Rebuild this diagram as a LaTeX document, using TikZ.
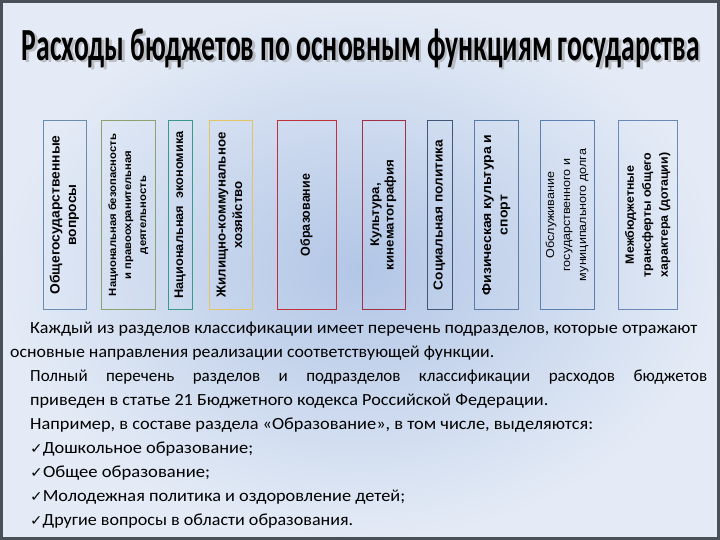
\documentclass[tikz,border=0pt]{standalone}
\usepackage{fontspec}
\setmainfont{Carlito}
\newfontfamily\boxfont{Liberation Sans}
\newfontfamily\symfont{DejaVu Sans}
\usepackage{graphicx}
\newcommand\fitw[2]{\resizebox{#1}{\height}{#2}}
\definecolor{framecol}{HTML}{4A5058}
\definecolor{bgin}{HTML}{B2C6E6}
\definecolor{bgout}{HTML}{E4EBF6}
\definecolor{c1}{HTML}{6A8CB0}
\definecolor{c2}{HTML}{8FA070}
\definecolor{c3}{HTML}{3A9A8A}
\definecolor{c4}{HTML}{E2C466}
\definecolor{c5}{HTML}{C0303A}
\definecolor{c6}{HTML}{A03045}
\definecolor{c7}{HTML}{405878}
\definecolor{c8}{HTML}{5A7CA8}
\definecolor{c9}{HTML}{5A80B0}
\definecolor{c10}{HTML}{6A88B8}
\tikzset{
  fbox/.style={draw, line width=1pt, rotate=90, minimum width=188pt, inner sep=0pt, align=center, text=black},
  para/.style={anchor=base west, inner sep=0pt, font=\fontsize{17}{20}\selectfont},
  chk/.style={},
}
\newcommand\chkmark{{\symfont\fontsize{14}{14}\selectfont ✓}}
\begin{document}
\begin{tikzpicture}[x=1pt,y=-1pt]
\useasboundingbox (0,0) rectangle (720,540);
\shade[inner color=bgin, outer color=bgout] (0,0) rectangle (720,540);
\draw[line width=3pt, framecol] (1.5,1.5) rectangle (718.5,538.5);
% title with soft shadow
\node[anchor=base, inner sep=0pt, text=black!40, opacity=0.55] (tshadow) at (363.5,63) {\fitw{678pt}{\fontsize{46}{46}\selectfont\bfseries Расходы бюджетов по основным функциям государства}};
\node[anchor=base, inner sep=0pt] (title) at (361,61) {\fitw{678pt}{\fontsize{46}{46}\selectfont\bfseries Расходы бюджетов по основным функциям государства}};
% boxes
\node[fbox, draw=c1, minimum height=43pt] (b1) at (64.5,215)
 {\fitw{159pt}{\boxfont\bfseries\fontsize{13.5}{16.5}\selectfont\begin{tabular}{@{}c@{}}Общегосударственные\\вопросы\end{tabular}}};
\node[fbox, draw=c2, minimum height=54pt] (b2) at (128,215)
 {\fitw{162pt}{\boxfont\bfseries\fontsize{10.5}{15}\selectfont\begin{tabular}{@{}c@{}}Национальная безопасность\\и правоохранительная\\деятельность\end{tabular}}};
\node[fbox, draw=c3, minimum height=24pt] (b3) at (180,215)
 {\fitw{167pt}{\boxfont\bfseries\fontsize{12.5}{15}\selectfont Национальная\ \ экономика}};
\node[fbox, draw=c4, minimum height=43pt] (b4) at (230.5,215)
 {\fitw{165pt}{\boxfont\bfseries\fontsize{13}{16.5}\selectfont\begin{tabular}{@{}c@{}}Жилищно-коммунальное\\хозяйство\end{tabular}}};
\node[fbox, draw=c5, minimum height=59pt] (b5) at (306.5,215)
 {\fitw{82pt}{\boxfont\bfseries\fontsize{13}{16}\selectfont Образование}};
\node[fbox, draw=c6, minimum height=43pt] (b6) at (383.5,215)
 {\fitw{110pt}{\boxfont\bfseries\fontsize{12.5}{14.5}\selectfont\begin{tabular}{@{}c@{}}Культура,\\кинематография\end{tabular}}};
\node[fbox, draw=c7, minimum height=25pt] (b7) at (439.5,215)
 {\fitw{150pt}{\boxfont\bfseries\fontsize{13}{15}\selectfont Социальная политика}};
\node[fbox, draw=c8, minimum height=44pt] (b8) at (496,215)
 {\fitw{161pt}{\boxfont\bfseries\fontsize{13}{16.5}\selectfont\begin{tabular}{@{}c@{}}Физическая культура и\\спорт\end{tabular}}};
\node[fbox, draw=c9, minimum height=54pt] (b9) at (567,215)
 {\fitw{132pt}{\boxfont\fontsize{11.5}{16}\selectfont\begin{tabular}{@{}c@{}}Обслуживание\\государственного и\\муниципального долга\end{tabular}}};
\node[fbox, draw=c10, minimum height=59pt] (b10) at (647.5,215)
 {\fitw{125pt}{\boxfont\bfseries\fontsize{12}{17}\selectfont\begin{tabular}{@{}c@{}}Межбюджетные\\трансферты общего\\характера (дотации)\end{tabular}}};
% paragraph
\node[para] (l1) at (30,333) {\fitw{667pt}{Каждый из разделов классификации имеет перечень подразделов, которые отражают}};
\node[para] (l2) at (10,357) {\fitw{484pt}{основные направления реализации соответствующей функции.}};
\node[para] (l3) at (30,381) {\makebox[677pt][s]{Полный перечень разделов и подразделов классификации расходов бюджетов}};
\node[para] (l4) at (30,405) {\fitw{518pt}{приведен в статье 21 Бюджетного кодекса Российской Федерации.}};
\node[para] (l5) at (30,429) {\fitw{563pt}{Например, в составе раздела «Образование», в том числе, выделяются:}};
\node[para] (l6) at (30,453) {\fitw{223pt}{\chkmark Дошкольное образование;}};
\node[para] (l7) at (30,477) {\fitw{180pt}{\chkmark Общее образование;}};
\node[para] (l8) at (30,501) {\fitw{375pt}{\chkmark Молодежная политика и оздоровление детей;}};
\node[para] (l9) at (30,525) {\fitw{323pt}{\chkmark Другие вопросы в области образования.}};
\end{tikzpicture}
\end{document}
